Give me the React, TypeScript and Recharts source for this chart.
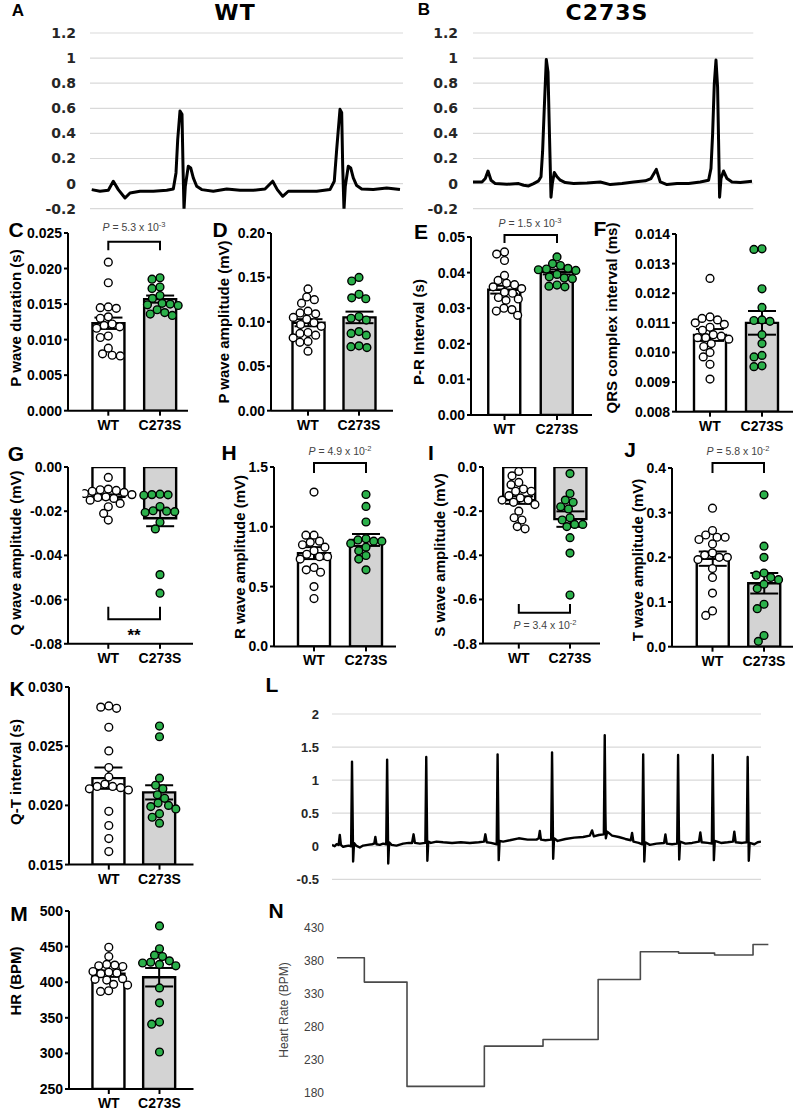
import React from 'react';
import {
  ComposedChart, Bar, Cell, ErrorBar, Scatter, XAxis, YAxis,
  LineChart, Line, CartesianGrid,
} from 'recharts';

const FONT = 'Arial, "Liberation Sans", Helvetica, sans-serif';
const WIDE = '"DejaVu Sans", Verdana, sans-serif';
const GREEN = '#2bb04a';
const GROUPS = ['WT', 'C273S'];

// A / B: single-lead ECG, time (ms) and amplitude (mV)
const wtTraceT = [1.7, 10, 18.3, 23.3, 28.3, 35, 40, 50, 63.3, 76.7, 83.3, 86, 87.7, 90, 92, 93, 94, 95.3, 98.3, 100.7, 103.3, 106.7, 111.7, 123.3, 136.7, 150, 163.3, 175, 182.7, 187.3, 192.7, 198.3, 210, 226.7, 240, 244.3, 246.7, 250, 251.7, 252.7, 254, 255.3, 258.3, 260.7, 263.3, 266.7, 271.7, 283.3, 296.7, 310];
const wtTraceV = [-0.048, -0.061, -0.053, 0.019, -0.048, -0.115, -0.075, -0.061, -0.061, -0.053, -0.043, 0.085, 0.35, 0.579, 0.552, 0.139, -0.208, -0.021, 0.139, 0.125, 0.045, -0.021, -0.048, -0.061, -0.043, -0.053, -0.053, -0.043, 0.019, -0.048, -0.101, -0.061, -0.061, -0.061, -0.048, 0.019, 0.272, 0.592, 0.565, 0.139, -0.208, -0.021, 0.139, 0.125, 0.045, -0.016, -0.043, -0.048, -0.035, -0.048];
const mutTraceT = [0, 9, 12.3, 15, 18, 22.3, 34, 45.6, 50.6, 55.6, 60.6, 65.6, 68, 69.6, 71.3, 73.3, 75, 76.3, 78, 79.3, 81.3, 84, 87.3, 92.3, 100.6, 114, 127.3, 137.3, 149, 160.6, 172.3, 178, 183.3, 187.3, 194, 204, 215.6, 227.3, 235.6, 238, 239.6, 241.3, 243, 244.6, 245.6, 246.6, 248, 250.6, 254, 259, 267.3, 279];
const mutTraceV = [0.013, 0.013, 0.04, 0.1, 0.027, 0, -0.005, 0, -0.013, -0.019, 0, 0.022, 0.054, 0.256, 0.606, 0.989, 0.889, 0.445, -0.108, 0, 0.089, 0.054, 0.027, 0.008, 0, 0.005, 0.013, -0.008, 0, 0.013, 0.022, 0.04, 0.113, 0.013, -0.008, 0, 0, 0.013, 0.027, 0.121, 0.39, 0.795, 0.984, 0.768, 0.337, -0.108, 0.04, 0.1, 0.04, 0.013, 0.008, 0.019];
const ecgTicks = [-0.2, 0, 0.2, 0.4, 0.6, 0.8, 1, 1.2];

// L: longer recording
const longT = [0, 12, 20, 30, 35, 40, 50, 60, 75, 86, 90, 93, 95, 99, 108, 125, 140, 160, 180, 190, 195, 200, 215, 230, 244, 248, 251, 253, 257, 268, 290, 320, 345, 360, 367, 373, 395, 420, 424, 427, 429, 433, 445, 470, 500, 540, 580, 620, 660, 684, 690, 696, 715, 741, 745, 748, 750, 754, 770, 800, 840, 880, 920, 930, 935, 940, 960, 986, 990, 993, 995, 999, 1015, 1050, 1090, 1130, 1160, 1170, 1178, 1200, 1223, 1227, 1230, 1232, 1238, 1260, 1290, 1320, 1344, 1350, 1356, 1380, 1396, 1400, 1403, 1405, 1409, 1430, 1460, 1494, 1500, 1506, 1530, 1553, 1557, 1560, 1562, 1566, 1590, 1620, 1651, 1657, 1663, 1690, 1709, 1713, 1716, 1718, 1722, 1750, 1780, 1804, 1810, 1816, 1845, 1866, 1870, 1873, 1875, 1879, 1900, 1915, 1930];
const longV = [0.02, 0, 0.03, 0.02, 0.17, 0.02, -0.01, 0, 0.01, 0, 1.28, 0.4, -0.23, 0.05, 0.01, -0.02, 0.01, 0.02, 0.03, 0.04, 0.14, 0.03, 0.02, 0.04, 0.03, 1.31, 0.42, -0.26, 0.06, 0.02, 0.01, 0.04, 0.05, 0.05, 0.18, 0.05, 0.04, 0.05, 1.35, 0.38, -0.22, 0.07, 0.05, 0.07, 0.06, 0.05, 0.06, 0.05, 0.06, 0.07, 0.18, 0.06, 0.05, 0.03, 1.39, 0.45, -0.21, 0.08, 0.07, 0.09, 0.12, 0.1, 0.1, 0.12, 0.23, 0.1, 0.09, 0.1, 1.42, 0.45, -0.19, 0.12, 0.08, 0.11, 0.13, 0.14, 0.16, 0.24, 0.15, 0.17, 0.18, 1.68, 0.5, 0.12, 0.22, 0.16, 0.14, 0.11, 0.09, 0.2, 0.07, 0.05, 0.03, 1.39, 0.38, -0.23, 0.06, 0.02, 0.04, 0.05, 0.18, 0.04, 0.03, 0.04, 1.38, 0.42, -0.2, 0.07, 0.04, 0.05, 0.07, 0.21, 0.06, 0.05, 0.04, 1.38, 0.45, -0.21, 0.08, 0.05, 0.06, 0.07, 0.22, 0.06, 0.05, 0.06, 1.35, 0.45, -0.22, 0.05, 0.03, 0.06, 0.07];
const longTicks = [-0.5, 0, 0.5, 1, 1.5, 2];

// N: beat-to-beat heart rate
const hrStepT = [0, 123, 315, 663, 927, 1175, 1365, 1537, 1699, 1872, 1942];
const hrStepV = [385, 348, 190, 251, 261, 352, 394, 392, 389, 405, 405];
const hrTicks = [180, 230, 280, 330, 380, 430];

// C: P wave duration (s)
const pDurWT = [0.0209, 0.018, 0.0146, 0.0145, 0.0144, 0.0132, 0.013, 0.0122, 0.012, 0.0118, 0.0116, 0.0105, 0.0103, 0.0088, 0.008, 0.0078, 0.0077];
const pDurMut = [0.0187, 0.0185, 0.0174, 0.0172, 0.0162, 0.0158, 0.0151, 0.015, 0.0149, 0.0148, 0.0142, 0.0138, 0.0136, 0.0134];
const pDurMean = [0.0123, 0.0157];
const pDurSem = [0.0008, 0.0005];

// D: P wave amplitude (mV)
const pAmpWT = [0.137, 0.128, 0.125, 0.121, 0.112, 0.11, 0.109, 0.105, 0.103, 0.099, 0.097, 0.095, 0.088, 0.087, 0.085, 0.082, 0.078, 0.077, 0.067];
const pAmpMut = [0.15, 0.146, 0.131, 0.127, 0.126, 0.106, 0.104, 0.102, 0.089, 0.087, 0.085, 0.073, 0.072, 0.071];
const pAmpMean = [0.099, 0.105];
const pAmpSem = [0.004, 0.0065];

// E: P-R interval (s)
const prWT = [0.0458, 0.0452, 0.0434, 0.0392, 0.0378, 0.037, 0.0366, 0.036, 0.0355, 0.0345, 0.0342, 0.033, 0.0326, 0.0322, 0.03, 0.0296, 0.0292, 0.028];
const prMut = [0.0444, 0.0425, 0.042, 0.0412, 0.041, 0.0408, 0.0406, 0.0395, 0.0388, 0.0385, 0.0383, 0.0365, 0.0362, 0.036];
const prMean = [0.0352, 0.0402];
const prSem = [0.0011, 0.0007];

// F: QRS complex interval
const qrsWT = [0.0125, 0.0112, 0.01115, 0.0111, 0.011, 0.01095, 0.01085, 0.01075, 0.0106, 0.01055, 0.0105, 0.0105, 0.01045, 0.0103, 0.0102, 0.01, 0.00985, 0.0096, 0.0091];
const qrsMut = [0.0135, 0.01348, 0.01215, 0.01152, 0.0111, 0.01108, 0.01105, 0.0106, 0.0103, 0.0099, 0.00985, 0.00955, 0.00952];
const qrsMean = [0.01059, 0.011];
const qrsSem = [0.0002, 0.0004];

// G: Q wave amplitude (mV)
const qAmpWT = [-0.0047, -0.01, -0.0103, -0.0106, -0.011, -0.0115, -0.012, -0.0125, -0.013, -0.0135, -0.0138, -0.0142, -0.015, -0.0165, -0.018, -0.021, -0.024];
const qAmpMut = [-0.0123, -0.0125, -0.0126, -0.0128, -0.0179, -0.0198, -0.02, -0.0202, -0.0206, -0.025, -0.028, -0.0487, -0.0571];
const qAmpMean = [-0.0135, -0.0232];
const qAmpSem = [0.0011, 0.0036];

// H: R wave amplitude (mV)
const rAmpWT = [1.29, 0.93, 0.93, 0.88, 0.87, 0.85, 0.83, 0.8, 0.77, 0.75, 0.75, 0.73, 0.66, 0.64, 0.62, 0.5, 0.4];
const rAmpMut = [1.27, 1.17, 1.04, 0.9, 0.89, 0.88, 0.88, 0.86, 0.83, 0.8, 0.76, 0.73, 0.64];
const rAmpMean = [0.78, 0.89];
const rAmpSem = [0.05, 0.05];

// I: S wave amplitude (mV)
const sAmpWT = [-0.02, -0.04, -0.07, -0.08, -0.1, -0.11, -0.11, -0.13, -0.14, -0.15, -0.15, -0.16, -0.17, -0.2, -0.23, -0.24, -0.27, -0.28];
const sAmpMut = [-0.03, -0.12, -0.15, -0.16, -0.18, -0.19, -0.23, -0.24, -0.26, -0.26, -0.27, -0.32, -0.39, -0.58];
const sAmpMean = [-0.15, -0.236];
const sAmpSem = [0.017, 0.035];

// J: T wave amplitude (mV)
const tAmpWT = [0.31, 0.26, 0.25, 0.245, 0.245, 0.24, 0.23, 0.21, 0.205, 0.2, 0.2, 0.195, 0.175, 0.155, 0.12, 0.08, 0.07];
const tAmpMut = [0.34, 0.225, 0.2, 0.165, 0.16, 0.155, 0.15, 0.14, 0.13, 0.095, 0.085, 0.025, 0.012];
const tAmpMean = [0.197, 0.142];
const tAmpSem = [0.016, 0.023];

// K: Q-T interval (s)
const qtWT = [0.0284, 0.0283, 0.0282, 0.0266, 0.0246, 0.0232, 0.0224, 0.0218, 0.0216, 0.0216, 0.0215, 0.0214, 0.0213, 0.0195, 0.0183, 0.0172, 0.0161];
const qtMut = [0.0267, 0.0258, 0.0223, 0.0217, 0.0214, 0.0209, 0.0206, 0.0202, 0.02, 0.0199, 0.0197, 0.0193, 0.019, 0.0185];
const qtMean = [0.0223, 0.0211];
const qtSem = [0.0009, 0.0006];

// M: heart rate (BPM)
const hrWT = [449, 436, 425, 424, 423, 422, 415, 414, 413, 412, 405, 404, 403, 397, 396, 388, 387];
const hrMut = [479, 447, 438, 436, 430, 428, 427, 425, 423, 392, 371, 344, 341, 302];
const hrMean = [412, 407];
const hrSem = [4.5, 13];

type Box = { x0: number; x1: number; top: number; bottom: number };

const R = 3.9;

// simple beeswarm so dots sit side by side like a scatter dot plot
function swarm(vals: number[], slot: number, domain: number[], plotH: number, band: number) {
  const D = 2 * R + 0.3;
  const placed: { dx: number; py: number }[] = [];
  return vals.map((v) => {
    const py = ((domain[1] - v) / (domain[1] - domain[0])) * plotH;
    const near = placed.filter((q) => Math.abs(q.py - py) < D);
    const cands = [0];
    near.forEach((q) => {
      const w = Math.sqrt(D * D - (q.py - py) ** 2);
      cands.push(q.dx - w, q.dx + w);
    });
    cands.sort((a, b) => Math.abs(a) - Math.abs(b));
    const dx = cands.find((c) => near.every((q) => (q.dx - c) ** 2 + (q.py - py) ** 2 >= D * D - 0.01)) ?? 0;
    placed.push({ dx, py });
    return { x: slot + 0.5 + dx / band, y: v };
  });
}

const dot = (fill: string) => (props: any) => (
  <circle cx={props.cx} cy={props.cy} r={R} fill={fill} stroke="#000" strokeWidth={1.4} />
);

const axisStroke = { stroke: '#000', strokeWidth: 2 };

function BarPanel({ box, centers, domain, ticks, dec, wt, mut, mean, sem }: {
  box: Box; centers: number[]; domain: number[]; ticks: number[]; dec: number;
  wt: number[]; mut: number[]; mean: number[]; sem: number[];
}) {
  const ML = 62, MT = 12, MR = 8, MB = 34;
  const { x0, x1, top, bottom } = box;
  const band = centers[1] - centers[0];
  const pad = { left: centers[0] - band / 2 - x0, right: Math.max(0, x1 - centers[1] - band / 2) };
  const plotH = bottom - top;
  const rows = GROUPS.map((g, i) => ({ group: g, mean: mean[i], sem: sem[i] }));
  const wtPts = swarm(wt, 0, domain, plotH, band);
  const mutPts = swarm(mut, 1, domain, plotH, band);
  const tick = { fill: '#000', fontSize: 14, fontWeight: 700, fontFamily: FONT };
  return (
    <div style={{ position: 'absolute', left: x0 - ML, top: top - MT }}>
      <ComposedChart width={x1 - x0 + ML + MR} height={plotH + MT + MB} data={rows}
        margin={{ top: MT, right: MR, bottom: 0, left: 0 }}>
        <XAxis xAxisId="cat" dataKey="group" height={MB} padding={pad} interval={0}
          tick={tick} tickSize={5} tickMargin={4} axisLine={axisStroke} tickLine={axisStroke} />
        <XAxis xAxisId="num" dataKey="x" type="number" domain={[0, 2]} padding={pad} allowDataOverflow hide />
        <YAxis width={ML} type="number" domain={domain} ticks={ticks} interval={0} allowDataOverflow
          tickFormatter={(v: number) => v.toFixed(dec)} tick={tick} tickSize={4} tickMargin={2}
          axisLine={axisStroke} tickLine={axisStroke} />
        <Bar xAxisId="cat" dataKey="mean" barSize={32} stroke="#000" strokeWidth={2.4} isAnimationActive={false}>
          {rows.map((r, i) => <Cell key={r.group} fill={i === 0 ? '#ffffff' : '#d3d3d3'} />)}
          <ErrorBar dataKey="sem" width={14} stroke="#000" strokeWidth={2} />
        </Bar>
        <Scatter xAxisId="num" data={wtPts} dataKey="y" shape={dot('#ffffff')} isAnimationActive={false} />
        <Scatter xAxisId="num" data={mutPts} dataKey="y" shape={dot(GREEN)} isAnimationActive={false} />
      </ComposedChart>
    </div>
  );
}

function TracePanel({ box, t, v, xMax, yDomain, ticks, tick, gap, width, color, step, grid }: {
  box: Box; t: number[]; v: number[]; xMax: number; yDomain: number[]; ticks: number[];
  tick: any; gap: number; width: number; color: string; step?: boolean; grid?: boolean;
}) {
  const ML = 70, MT = 8, MR = 6, MB = 8;
  const { x0, x1, top, bottom } = box;
  const data = t.map((x, i) => ({ t: x, v: v[i] }));
  return (
    <div style={{ position: 'absolute', left: x0 - ML, top: top - MT }}>
      <LineChart width={x1 - x0 + ML + MR} height={bottom - top + MT + MB} data={data}
        margin={{ top: MT, right: MR, bottom: MB, left: 0 }}>
        {grid && <CartesianGrid vertical={false} stroke="#d9d9d9" strokeWidth={1.2} />}
        <XAxis dataKey="t" type="number" domain={[0, xMax]} allowDataOverflow hide />
        <YAxis width={ML} type="number" domain={yDomain} ticks={ticks} interval={0} allowDataOverflow
          axisLine={false} tickLine={false} tickSize={0} tickMargin={gap} tick={tick}
          tickFormatter={(n: number) => String(Number(n.toFixed(1)))} />
        <Line type={step ? 'stepAfter' : 'linear'} dataKey="v" stroke={color} strokeWidth={width}
          strokeLinejoin="round" dot={false} isAnimationActive={false} />
      </LineChart>
    </div>
  );
}

function Txt({ x, y, children, size, weight = 700, color = '#000', rotate = false, family = FONT, spacing = 0 }: any) {
  return (
    <div style={{
      position: 'absolute', left: x, top: y, fontSize: size, fontWeight: weight, color,
      fontFamily: family, lineHeight: 1, whiteSpace: 'nowrap', letterSpacing: spacing,
      transform: `translate(-50%, -50%)${rotate ? ' rotate(-90deg)' : ''}`,
    }}>{children}</div>
  );
}

function PVal({ x, y, mant, exp }: { x: number; y: number; mant: string; exp: string }) {
  return (
    <text x={x} y={y} textAnchor="middle" fontSize={10.5} fill="#444" fontFamily={FONT}>
      <tspan fontStyle="italic">P</tspan>{` = ${mant} x 10`}
      <tspan dy={-4} fontSize={7.5}>{exp}</tspan>
    </text>
  );
}

function Bracket({ xa, xb, y, leg }: { xa: number; xb: number; y: number; leg: number }) {
  return <path d={`M${xa},${y + leg} L${xa},${y} L${xb},${y} L${xb},${y + leg}`} fill="none" stroke="#000" strokeWidth={2} />;
}

export default function App() {
  const ecgTick = { fill: '#262626', fontSize: 14, fontWeight: 700, fontFamily: WIDE };
  const longTick = { fill: '#262626', fontSize: 13, fontWeight: 700, fontFamily: FONT };
  const hrTick = { fill: '#404040', fontSize: 12, fontWeight: 400, fontFamily: FONT };

  const letters: [string, number, number, number][] = [
    ['A', 18, 10, 17], ['B', 424, 9, 17], ['C', 16, 229, 21], ['D', 220, 229, 21],
    ['E', 421, 231, 21], ['F', 600, 228, 21], ['G', 16, 453, 21], ['H', 229, 452, 21],
    ['I', 431, 452, 21], ['J', 630, 449, 21], ['K', 17, 688, 21], ['L', 272, 684, 21],
    ['M', 19, 913, 21], ['N', 276, 910, 21],
  ];
  const yLabels: [string, number, number][] = [
    ['P wave duration (s)', 15, 318], ['P wave amplitude  (mV)', 223, 322],
    ['P-R Interval  (s)', 418, 332], ['QRS complex interval  (ms)', 611, 318],
    ['Q wave amplitude  (mV)', 15, 553], ['R wave amplitude  (mV)', 239, 557],
    ['S wave amplitude (mV)', 439, 555], ['T wave amplitude (mV)', 637, 560],
    ['Q-T interval (s)', 15, 772], ['HR (BPM)', 15, 981],
  ];

  return (
    <div style={{ position: 'absolute', left: 0, top: 0, width: 800, height: 1112, background: '#fff', overflow: 'hidden', fontFamily: FONT }}>
      <TracePanel box={{ x0: 90, x1: 403, top: 33, bottom: 208.7 }} t={wtTraceT} v={wtTraceV} xMax={313}
        yDomain={[-0.2, 1.2]} ticks={ecgTicks} tick={ecgTick} gap={14} width={3} color="#000" grid />
      <TracePanel box={{ x0: 472.7, x1: 753, top: 33, bottom: 208.7 }} t={mutTraceT} v={mutTraceV} xMax={280.3}
        yDomain={[-0.2, 1.2]} ticks={ecgTicks} tick={ecgTick} gap={15} width={3} color="#000" grid />

      <BarPanel box={{ x0: 68, x1: 188, top: 233.3, bottom: 411 }} centers={[108.3, 160]} domain={[0, 0.025]}
        ticks={[0, 0.005, 0.01, 0.015, 0.02, 0.025]} dec={3} wt={pDurWT} mut={pDurMut} mean={pDurMean} sem={pDurSem} />
      <BarPanel box={{ x0: 271, x1: 393, top: 233.3, bottom: 411 }} centers={[308, 359]} domain={[0, 0.2]}
        ticks={[0, 0.05, 0.1, 0.15, 0.2]} dec={2} wt={pAmpWT} mut={pAmpMut} mean={pAmpMean} sem={pAmpSem} />
      <BarPanel box={{ x0: 471, x1: 592, top: 237, bottom: 415 }} centers={[504.5, 557]} domain={[0, 0.05]}
        ticks={[0, 0.01, 0.02, 0.03, 0.04, 0.05]} dec={2} wt={prWT} mut={prMut} mean={prMean} sem={prSem} />
      <BarPanel box={{ x0: 676, x1: 793, top: 234, bottom: 411.7 }} centers={[710, 762]} domain={[0.008, 0.014]}
        ticks={[0.008, 0.009, 0.01, 0.011, 0.012, 0.013, 0.014]} dec={3} wt={qrsWT} mut={qrsMut} mean={qrsMean} sem={qrsSem} />

      <BarPanel box={{ x0: 68, x1: 193, top: 466.5, bottom: 643.3 }} centers={[108.3, 160]} domain={[-0.08, 0]}
        ticks={[-0.08, -0.06, -0.04, -0.02, 0]} dec={2} wt={qAmpWT} mut={qAmpMut} mean={qAmpMean} sem={qAmpSem} />
      <BarPanel box={{ x0: 274, x1: 396, top: 467.3, bottom: 646.7 }} centers={[314, 366]} domain={[0, 1.5]}
        ticks={[0, 0.5, 1, 1.5]} dec={1} wt={rAmpWT} mut={rAmpMut} mean={rAmpMean} sem={rAmpSem} />
      <BarPanel box={{ x0: 483, x1: 600, top: 466.7, bottom: 643.3 }} centers={[518.8, 570]} domain={[-0.8, 0]}
        ticks={[-0.8, -0.6, -0.4, -0.2, 0]} dec={1} wt={sAmpWT} mut={sAmpMut} mean={sAmpMean} sem={sAmpSem} />
      <BarPanel box={{ x0: 672, x1: 793, top: 468, bottom: 646.7 }} centers={[712.5, 764]} domain={[0, 0.4]}
        ticks={[0, 0.1, 0.2, 0.3, 0.4]} dec={1} wt={tAmpWT} mut={tAmpMut} mean={tAmpMean} sem={tAmpSem} />

      <BarPanel box={{ x0: 68.5, x1: 193, top: 687.4, bottom: 865 }} centers={[108.3, 159]} domain={[0.015, 0.03]}
        ticks={[0.015, 0.02, 0.025, 0.03]} dec={3} wt={qtWT} mut={qtMut} mean={qtMean} sem={qtSem} />
      <TracePanel box={{ x0: 331.7, x1: 760.7, top: 713.7, bottom: 879 }} t={longT} v={longV} xMax={1930}
        yDomain={[-0.5, 2]} ticks={longTicks} tick={longTick} gap={13} width={2.4} color="#000" grid />

      <BarPanel box={{ x0: 68.5, x1: 193, top: 911, bottom: 1089 }} centers={[108.3, 159]} domain={[250, 500]}
        ticks={[250, 300, 350, 400, 450, 500]} dec={0} wt={hrWT} mut={hrMut} mean={hrMean} sem={hrSem} />
      <TracePanel box={{ x0: 336.7, x1: 768.3, top: 927.7, bottom: 1092.7 }} t={hrStepT} v={hrStepV} xMax={1942}
        yDomain={[180, 430]} ticks={hrTicks} tick={hrTick} gap={13} width={1.6} color="#4a4a4a" step />

      <Txt x={235} y={13} size={22} family={WIDE} spacing={1}>WT</Txt>
      <Txt x={607} y={13} size={22} family={WIDE} spacing={1}>C273S</Txt>
      {letters.map(([ch, x, y, s]) => <Txt key={ch} x={x} y={y} size={s}>{ch}</Txt>)}
      {yLabels.map(([t, x, y]) => <Txt key={t} x={x} y={y} size={15} rotate>{t}</Txt>)}
      <Txt x={284} y={1010} size={12} weight={400} color="#404040" rotate>Heart Rate (BPM)</Txt>

      <svg width={800} height={1112} style={{ position: 'absolute', left: 0, top: 0, pointerEvents: 'none' }}>
        <PVal x={134} y={231} mant="5.3" exp="-3" />
        <Bracket xa={108.3} xb={160} y={241.7} leg={8.5} />
        <PVal x={530} y={227} mant="1.5" exp="-3" />
        <Bracket xa={504.5} xb={557} y={235} leg={8} />
        <PVal x={340} y={455} mant="4.9" exp="-2" />
        <Bracket xa={314} xb={366} y={463} leg={10} />
        <PVal x={738} y={455} mant="5.8" exp="-2" />
        <Bracket xa={712.5} xb={764} y={463} leg={10} />
        <Bracket xa={108.3} xb={160} y={619.3} leg={-12.6} />
        <text x={134} y={641} textAnchor="middle" fontSize={17} fontWeight={700} fontFamily={FONT}>**</text>
        <Bracket xa={518.8} xb={570} y={612.7} leg={-8.7} />
        <PVal x={545} y={629} mant="3.4" exp="-2" />
      </svg>
    </div>
  );
}
